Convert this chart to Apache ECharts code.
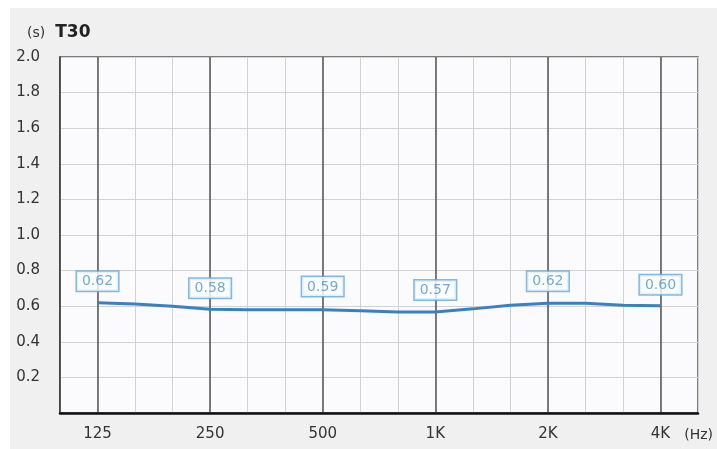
<!DOCTYPE html>
<html>
<head>
<meta charset="utf-8">
<script src="https://cdn.jsdelivr.net/npm/echarts@6/dist/echarts.min.js"></script>
<style>
html, body { margin: 0; padding: 0; background: #ffffff; }
#chart { position: absolute; left: 10px; top: 8px; width: 707px; height: 441px; }
</style>
</head>
<body>
<div id="chart"></div>
<script>
// 1/3 octave bands, 100 Hz .. 5 kHz
var bands = ['100','125','160','200','250','315','400','500','630','800',
             '1K','1.25K','1.6K','2K','2.5K','3.15K','4K','5K'];
var tickLabels = ['','125','','','250','','','500','','','1K','','','2K','','','4K',''];
// T30 curve (s), read per band
var t30Curve = [null,0.62,0.612,0.60,0.583,0.58,0.58,0.58,0.575,0.567,
                0.568,0.585,0.605,0.616,0.616,0.605,0.603,null];
// octave values shown in the boxes
var octaveValues = [null,0.62,null,null,0.58,null,null,0.59,null,null,
                    0.57,null,null,0.62,null,null,0.60,null];

var myChart = echarts.init(document.getElementById('chart'));

var font = 'DejaVu Sans';

option = {
    backgroundColor: '#f0f0f0',
    animation: false,
    title: {
        text: '{a|(s)}  {b|T30}',
        left: 12,
        top: 11,
        textStyle: {
            rich: {
                a: { fontFamily: font, fontSize: 14, fontWeight: 'normal', color: '#333' },
                b: { fontFamily: font, fontSize: 17, fontWeight: 'bold', color: '#222' }
            }
        }
    },
    graphic: [{
        type: 'text',
        right: 4,
        bottom: 7,
        style: { text: '(Hz)', font: '14px "DejaVu Sans"', fill: '#333' }
    }],
    grid: {
        left: 50,
        right: 19,
        top: 49,
        bottom: 36,
        show: true,
        backgroundColor: '#fbfbfd',
        borderColor: '#555',
        borderWidth: 1.5
    },
    xAxis: [
        {
            type: 'category',
            data: bands,
            boundaryGap: false,
            axisLine: { lineStyle: { color: '#111', width: 2.5 } },
            axisTick: { show: false },
            axisLabel: {
                interval: 0,
                margin: 14,
                fontFamily: font,
                fontSize: 15,
                color: '#333',
                formatter: function (v, i) { return tickLabels[i]; }
            },
            splitLine: { show: true, interval: 0, lineStyle: { color: '#d2d2d2', width: 1 } }
        },
        {
            type: 'category',
            data: bands,
            boundaryGap: false,
            position: 'top',
            axisLine: { show: false },
            axisTick: { show: false },
            axisLabel: { show: false },
            splitLine: {
                show: true,
                interval: function (i) { return tickLabels[i] !== ''; },
                lineStyle: { color: '#555', width: 1.5 }
            }
        }
    ],
    yAxis: {
        type: 'value',
        min: 0,
        max: 2,
        interval: 0.2,
        axisLine: { show: true, lineStyle: { color: '#333', width: 1.5 } },
        axisTick: { show: false },
        axisLabel: {
            margin: 20,
            fontFamily: font,
            fontSize: 15,
            color: '#333',
            showMinLabel: false,
            formatter: function (v) { return v.toFixed(1); }
        },
        splitLine: { lineStyle: { color: '#d2d2d2', width: 1 } }
    },
    series: [
        {
            name: 'T30',
            type: 'line',
            data: t30Curve,
            showSymbol: false,
            lineStyle: { color: '#3a80c2', width: 3 },
            z: 3
        },
        {
            name: 'T30 octave',
            type: 'scatter',
            data: octaveValues,
            symbolSize: 0,
            label: {
                show: true,
                position: 'top',
                distance: 12,
                formatter: function (p) { return p.value.toFixed(2); },
                fontFamily: font,
                fontSize: 14,
                color: '#4d95cc',
                backgroundColor: '#fdfeff',
                borderColor: '#63a8d9',
                borderWidth: 1.5,
                padding: [3, 5, 2, 5]
            },
            z: 4
        }
    ]
};

myChart.setOption(option);
</script>
</body>
</html>
